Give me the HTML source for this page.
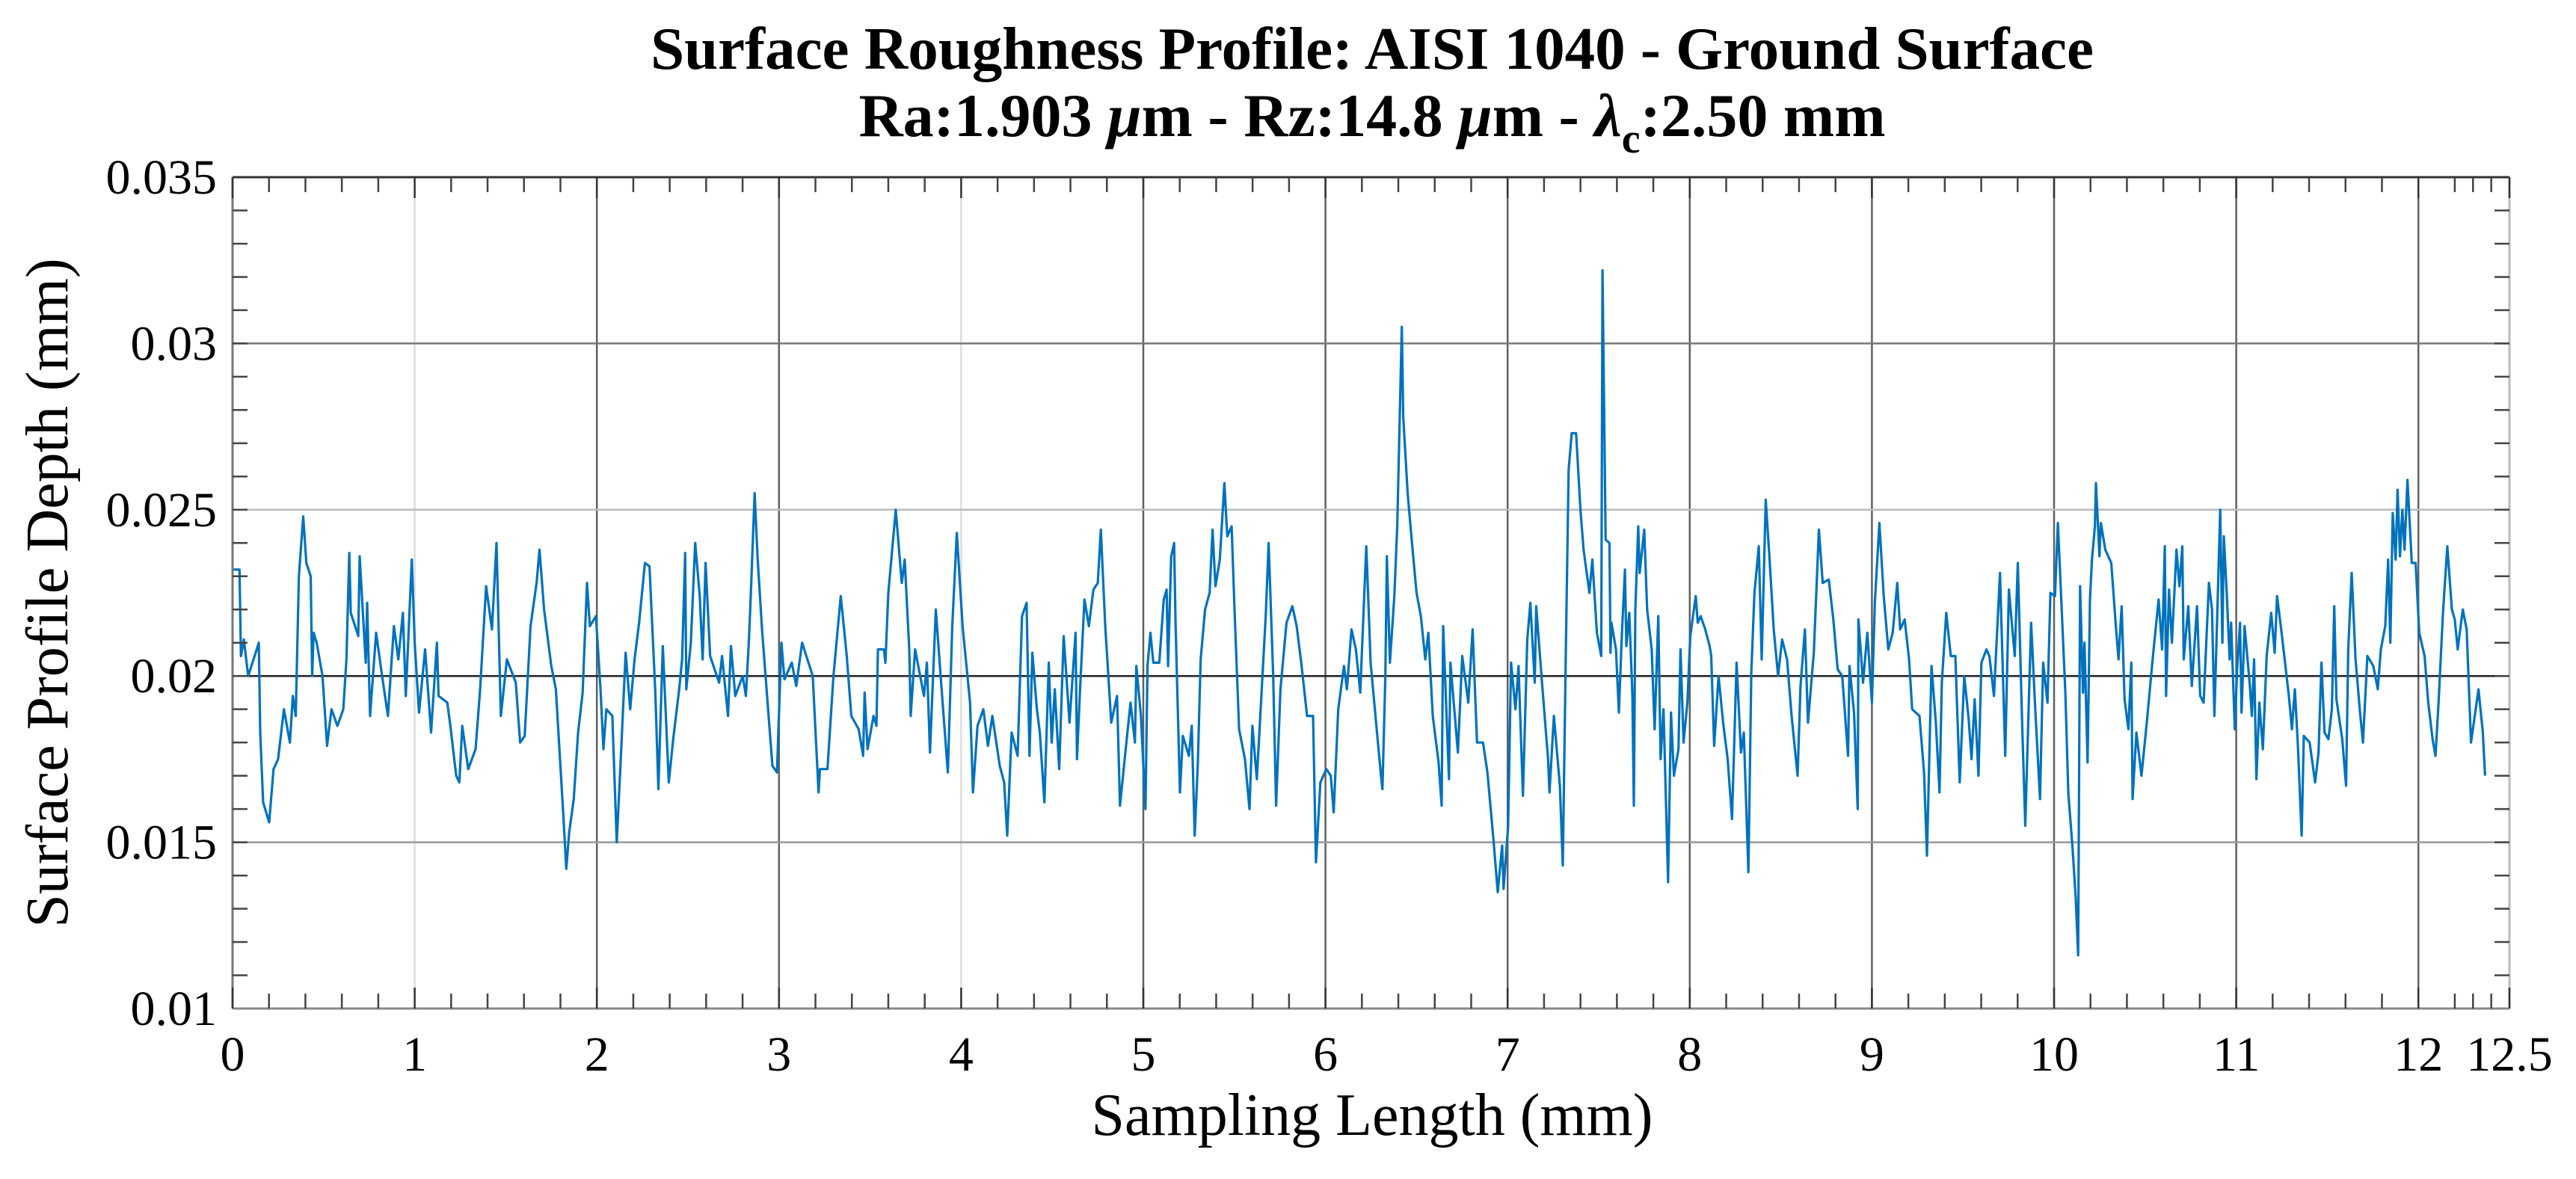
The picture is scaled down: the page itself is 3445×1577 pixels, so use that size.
<!DOCTYPE html>
<html><head><meta charset="utf-8"><style>
html,body{margin:0;padding:0;background:#fff;}
svg{display:block;font-family:"Liberation Serif",serif;}
</style></head><body>
<svg id="chart" width="3445" height="1577" viewBox="0 0 3445 1577" xmlns="http://www.w3.org/2000/svg">
<g id="title">
<text x="1835" y="92" text-anchor="middle" font-size="81" font-weight="bold">Surface Roughness Profile: AISI 1040 - Ground Surface</text>
<text x="1835" y="182" text-anchor="middle" font-size="82" font-weight="bold">Ra:1.903 <tspan font-style="italic">μ</tspan>m - Rz:14.8 <tspan font-style="italic">μ</tspan>m - <tspan font-style="italic">λ</tspan><tspan font-size="56" dy="22">c</tspan><tspan dy="-22">:2.50 mm</tspan></text>
</g>
<g id="grid"></g>
<g id="series"></g>
<g id="axes"></g>
<text x="1835" y="1518" text-anchor="middle" font-size="80">Sampling Length (mm)</text>
<text transform="translate(90,793) rotate(-90)" text-anchor="middle" font-size="80">Surface Profile Depth (mm)</text>
</svg>
<script>
const xTicks=[0,1,2,3,4,5,6,7,8,9,10,11,12,12.5];
const xTickLabels=["0","1","2","3","4","5","6","7","8","9","10","11","12","12.5"];
const yTicks=[0.01,0.015,0.02,0.025,0.03,0.035];
const yTickLabels=["0.01","0.015","0.02","0.025","0.03","0.035"];
const xs=[0.005,0.038,0.046,0.062,0.086,0.127,0.144,0.152,0.168,0.201,0.225,0.250,0.282,0.315,0.331,0.347,0.364,0.388,0.405,0.429,0.437,0.445,0.462,0.494,0.519,0.543,0.576,0.608,0.625,0.641,0.649,0.690,0.698,0.731,0.739,0.755,0.788,0.821,0.853,0.886,0.910,0.935,0.951,0.984,1.000,1.024,1.057,1.090,1.122,1.131,1.179,1.196,1.228,1.245,1.261,1.294,1.334,1.359,1.392,1.424,1.449,1.473,1.506,1.555,1.579,1.604,1.636,1.669,1.685,1.710,1.750,1.775,1.816,1.832,1.848,1.873,1.897,1.922,1.946,1.962,1.995,2.020,2.036,2.052,2.085,2.109,2.134,2.158,2.183,2.207,2.232,2.264,2.289,2.321,2.338,2.362,2.395,2.419,2.452,2.468,2.485,
2.491,2.516,2.540,2.565,2.581,2.597,2.622,2.671,2.687,2.720,2.736,2.760,2.801,2.818,2.834,2.842,2.866,2.883,2.907,2.940,2.964,2.989,3.013,3.030,3.070,3.095,3.127,3.185,3.217,3.225,3.266,3.299,3.339,3.372,3.397,3.437,3.462,3.470,3.486,3.519,3.535,3.543,3.576,3.584,3.600,3.641,3.674,3.690,3.715,3.723,3.747,3.796,3.812,3.829,3.861,3.894,3.927,3.951,3.976,4.008,4.049,4.065,4.090,4.122,4.147,4.171,4.212,4.236,4.253,4.277,4.310,4.334,4.359,4.375,4.391,4.416,4.432,4.457,4.481,4.497,4.514,4.538,4.563,4.595,4.628,4.636,4.652,4.677,4.701,4.726,4.750,4.767,4.791,4.824,4.856,4.872,4.905,4.930,4.954,4.962,4.987,5.012,
5.023,5.039,5.055,5.088,5.112,5.128,5.136,5.153,5.169,5.177,5.201,5.217,5.250,5.266,5.282,5.299,5.315,5.339,5.364,5.380,5.396,5.420,5.445,5.461,5.485,5.502,5.526,5.558,5.583,5.599,5.623,5.648,5.672,5.688,5.713,5.729,5.753,5.786,5.818,5.842,5.867,5.899,5.932,5.948,5.972,6.005,6.029,6.045,6.070,6.102,6.118,6.143,6.167,6.191,6.224,6.248,6.281,6.305,6.313,6.329,6.337,6.354,6.378,6.394,6.419,6.427,6.451,6.475,6.500,6.524,6.548,6.565,6.589,6.621,6.638,6.646,6.678,6.686,6.727,6.751,6.784,6.808,6.832,6.865,6.889,6.922,6.946,6.970,6.978,7.003,7.019,7.043,7.060,7.084,7.108,7.125,7.149,7.157,7.189,7.222,7.230,7.254,7.287,7.303,7.319,7.335,7.352,7.376,7.400,7.417,7.449,7.465,7.490,7.514,
7.521,7.538,7.559,7.565,7.570,7.595,7.611,7.627,7.644,7.652,7.668,7.685,7.693,7.701,7.717,7.725,7.750,7.766,7.791,7.807,7.827,7.840,7.856,7.881,7.897,7.913,7.938,7.949,7.966,7.987,8.003,8.033,8.044,8.060,8.085,8.109,8.118,8.134,8.158,8.183,8.208,8.232,8.257,8.281,8.297,8.322,8.338,8.355,8.379,8.395,8.417,8.436,8.461,8.485,8.507,8.534,8.559,8.592,8.608,8.632,8.649,8.681,8.709,8.730,8.763,8.788,8.812,8.837,8.869,8.877,8.902,8.922,8.926,8.951,8.975,9.000,9.016,9.041,9.065,9.090,9.114,9.139,9.155,9.180,9.204,9.221,9.261,9.286,9.302,9.327,9.351,9.371,9.384,9.408,9.433,9.458,9.482,9.507,9.531,9.547,9.564,9.585,9.601,9.629,9.645,9.670,9.703,9.732,9.752,9.784,9.801,9.825,9.842,9.874,9.895,9.923,9.940,9.964,9.980,10.005,10.021,
10.062,10.078,10.102,10.119,10.132,10.143,10.159,10.167,10.184,10.197,10.208,10.224,10.230,10.249,10.257,10.281,10.314,10.338,10.354,10.371,10.387,10.408,10.424,10.431,10.452,10.480,10.509,10.541,10.574,10.593,10.608,10.615,10.631,10.647,10.672,10.688,10.704,10.712,10.737,10.756,10.785,10.802,10.821,10.850,10.867,10.880,10.912,10.924,10.932,10.948,10.964,10.972,10.992,11.005,11.021,11.029,11.046,11.075,11.086,11.098,11.111,11.127,11.146,11.167,11.192,11.211,11.224,11.249,11.289,11.306,11.322,11.338,11.359,11.371,11.403,11.433,11.452,11.468,11.485,11.506,11.525,11.538,11.550,11.582,11.603,11.615,11.634,11.655,11.680,11.696,11.720,11.753,11.777,11.794,11.818,11.834,11.846,11.859,11.875,11.886,11.899,11.912,11.924,11.940,11.964,11.985,12.005,12.034,12.054,12.078,12.094,12.111,12.135,12.159,12.184,12.200,12.216,12.244,12.265,12.289,12.330,12.354,12.366];
const depthUm=[23.2,23.2,20.6,21.1,20.0,20.7,21.0,18.3,16.2,15.6,17.2,17.5,19.0,18.0,19.4,18.8,23.0,24.8,23.4,23.0,20.0,21.3,21.0,20.0,17.9,19.0,18.5,19.0,20.5,23.7,21.9,21.2,23.6,20.4,22.2,18.8,21.3,20.0,18.8,21.5,20.5,21.9,19.4,23.5,21.0,18.9,20.8,18.3,21.0,19.4,19.2,18.5,17.0,16.8,18.5,17.2,17.8,19.6,22.7,21.4,24.0,18.8,20.5,19.8,18.0,18.2,21.5,22.8,23.8,22.0,20.3,19.6,15.8,14.2,15.3,16.3,18.3,19.5,22.8,21.5,21.8,19.6,17.8,19.0,18.8,15.0,17.8,20.7,19.0,20.5,21.6,23.4,23.3,19.5,16.6,20.9,16.8,18.1,19.6,20.5,23.7,
19.6,21.0,24.0,22.4,20.5,23.4,20.6,19.8,20.6,18.8,20.9,19.4,20.0,19.4,21.0,22.0,25.5,23.5,21.4,19.0,17.3,17.1,21.0,19.9,20.4,19.7,21.0,20.0,16.5,17.2,17.2,20.0,22.4,20.6,18.8,18.4,17.6,19.5,17.8,18.8,18.5,20.8,20.8,20.4,22.5,25.0,22.8,23.5,20.8,18.8,20.8,19.4,20.4,17.7,22.0,19.5,17.1,21.5,24.3,21.5,19.2,16.5,18.5,19.0,17.9,18.8,17.3,16.8,15.2,18.3,17.6,21.8,22.2,17.6,20.7,19.0,18.3,16.2,20.4,18.0,19.6,17.2,21.2,18.6,21.3,17.5,19.5,22.3,21.5,22.6,22.8,24.4,21.5,18.6,19.4,16.1,17.9,19.2,18.0,20.3,18.8,16.0,
20.3,21.3,20.4,20.4,22.3,22.6,20.3,23.6,24.0,21.6,16.5,18.2,17.6,18.5,15.2,17.3,20.5,22.0,22.5,24.4,22.7,23.5,25.8,24.2,24.5,21.8,18.4,17.5,16.0,18.5,16.9,19.4,21.8,24.0,20.0,16.1,19.6,21.6,22.1,21.5,20.4,18.8,18.8,14.4,16.8,17.2,17.0,15.9,19.0,20.3,19.6,21.4,20.8,19.5,23.9,20.4,18.4,17.0,16.6,20.0,23.6,20.4,22.4,24.5,30.5,27.8,25.5,24.0,22.5,21.8,20.5,21.3,18.8,17.4,16.1,21.5,16.9,20.4,17.7,20.6,19.2,21.4,18.0,18.0,17.1,15.1,13.5,14.9,13.6,15.5,20.4,19.0,20.3,16.4,21.1,22.2,19.8,22.1,19.8,17.5,16.5,18.8,16.7,14.3,20.5,26.2,27.3,27.3,25.0,23.8,22.5,23.5,21.3,20.6,
32.2,24.1,24.0,20.7,21.6,20.8,18.9,21.2,23.2,20.9,21.9,19.4,16.1,22.0,24.5,23.1,24.4,22.0,20.8,18.4,21.8,17.5,19.0,13.8,18.9,17.0,17.8,20.8,18.0,19.2,21.2,22.4,21.6,21.8,21.4,20.9,20.6,17.9,20.0,18.6,17.5,15.7,20.4,17.7,18.3,14.1,20.1,22.5,23.9,20.5,25.3,23.7,21.4,20.0,21.1,20.5,18.8,17.0,19.7,21.4,18.6,20.7,24.4,22.8,22.9,21.7,20.2,20.0,17.6,20.3,18.9,16.0,21.7,19.8,21.3,19.2,22.2,24.6,22.4,20.8,21.3,22.8,21.4,21.7,20.5,19.0,18.8,17.1,14.6,20.3,18.6,16.5,19.8,21.9,20.6,20.6,16.8,20.0,18.7,17.5,19.3,17.0,20.4,20.8,20.6,19.4,23.1,17.6,22.6,20.6,23.4,18.5,15.5,21.6,19.2,16.3,20.4,19.2,22.5,22.4,24.6,
19.5,16.5,14.8,13.3,11.6,22.7,19.5,21.0,17.4,22.3,23.5,24.5,25.8,23.6,24.6,23.8,23.4,21.6,20.5,22.1,19.3,18.4,20.4,16.3,18.3,17.0,18.6,20.5,22.3,20.8,23.9,19.4,22.6,21.0,23.8,22.7,23.9,20.5,22.1,19.7,22.1,19.4,19.2,22.8,22.0,18.8,25.0,21.0,24.2,22.5,20.5,21.6,18.4,20.2,21.6,18.9,21.5,19.7,18.8,20.5,16.9,19.2,17.8,20.6,21.9,20.7,22.4,21.3,19.4,18.4,19.6,18.0,15.2,18.2,18.0,16.8,17.7,20.4,18.3,18.1,19.0,22.1,19.3,18.1,16.7,20.8,23.1,20.5,18.9,18.0,20.6,20.3,19.6,20.8,21.5,23.5,21.0,24.9,23.5,25.6,23.6,25.0,23.8,25.9,23.4,23.4,21.3,20.6,19.2,18.1,17.6,19.2,21.9,23.9,22.0,21.7,20.8,22.0,21.4,18.0,19.6,18.3,17.0];

const NS="http://www.w3.org/2000/svg";
const L=311,R=3356,T=237,B=1349;
const xMin=0,xMax=12.5,yMin=0.01,yMax=0.035;
function sx(v){return L+(v-xMin)/(xMax-xMin)*(R-L);}
function sy(v){return B-(v-yMin)/(yMax-yMin)*(B-T);}
function mk(tag,attrs,parent){const e=document.createElementNS(NS,tag);for(const k in attrs)e.setAttribute(k,attrs[k]);parent.appendChild(e);return e;}
const grid=document.getElementById('grid'),axes=document.getElementById('axes'),series=document.getElementById('series');

const xGridColor={1:"#dddddd",4:"#dddddd"};
xTicks.forEach(t=>{
  if(t===0||t===12.5)return;
  const ln=mk('line',{x1:sx(t),x2:sx(t),y1:T,y2:B,stroke:xGridColor[t]||"#606060","stroke-width":2.5},grid);
  
  
});
const yGridColor={"0.015":"#999999","0.02":"#222222","0.025":"#bbbbbb","0.03":"#777777"};
yTicks.forEach(t=>{
  if(t===yMin||t===yMax)return;
  const ln=mk('line',{x1:L,x2:R,y1:sy(t),y2:sy(t),stroke:yGridColor[String(t)]||"#888","stroke-width":2.5},grid);
  
  
});

let d="";
for(let i=0;i<xs.length;i++){d+=(i?"L":"M")+sx(xs[i]).toFixed(1)+","+sy(depthUm[i]/1000).toFixed(1);}
const path=mk('path',{d:d,fill:"none",stroke:"#0072BD","stroke-width":3.2,"stroke-linejoin":"round"},series);



const box=[[L,B,R,B,"#888"],[L,T,L,B,"#777"],[L,T,R,T,"#333"],[R,T,R,B,"#bbb"]];
box.forEach(b=>{
  const ln=mk('line',{x1:b[0],y1:b[1],x2:b[2],y2:b[3],stroke:b[4],"stroke-width":3},axes);
  
  
});
const xMinor=[];
for(let v=0.2;v<12;v+=0.2){xMinor.push(Math.round(v*10)/10);}
xMinor.push(12.2,12.3,12.4);
xMinor.forEach(v=>{
  if(Math.abs(v-Math.round(v))<1e-6)return;
  mk('line',{x1:sx(v),x2:sx(v),y1:B,y2:B-20,stroke:"#444","stroke-width":2.5},axes);
  mk('line',{x1:sx(v),x2:sx(v),y1:T,y2:T+20,stroke:"#444","stroke-width":2.5},axes);
});
xTicks.forEach((t,i)=>{
  mk('line',{x1:sx(t),x2:sx(t),y1:B,y2:B-28,stroke:"#333","stroke-width":2.5},axes);
  mk('line',{x1:sx(t),x2:sx(t),y1:T,y2:T+28,stroke:"#333","stroke-width":2.5},axes);
  const tx=mk('text',{x:sx(t),y:1432,"text-anchor":"middle","font-size":66},axes);
  tx.textContent=xTickLabels[i];
  
  
});
for(let k=1;k<25;k++){
  const v=yMin+k*0.001;
  mk('line',{x1:L,x2:L+20,y1:sy(v),y2:sy(v),stroke:"#444","stroke-width":2.5},axes);
  mk('line',{x1:R,x2:R-20,y1:sy(v),y2:sy(v),stroke:"#444","stroke-width":2.5},axes);
}
yTicks.forEach((t,i)=>{
  const tx=mk('text',{x:290,y:sy(t)+22,"text-anchor":"end","font-size":66},axes);
  tx.textContent=yTickLabels[i];
  
  
});
</script>
</body></html>
